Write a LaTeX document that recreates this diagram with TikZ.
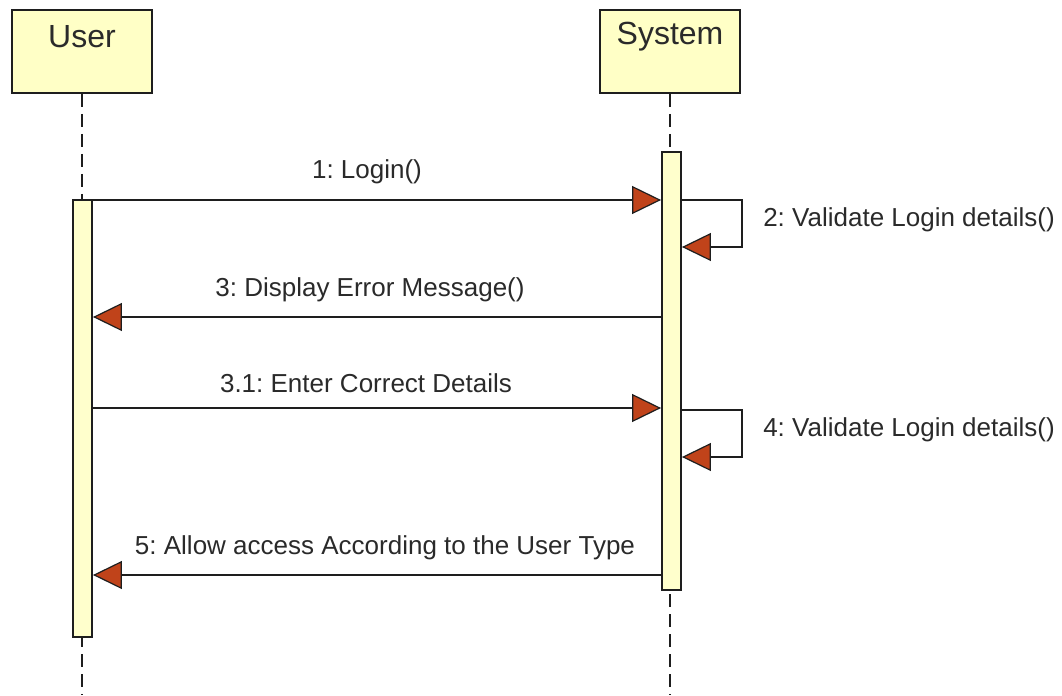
\documentclass[tikz,border=0pt]{standalone}
\usepackage{fontspec}
\setmainfont{Liberation Sans}
\usetikzlibrary{arrows.meta}
\definecolor{boxfill}{HTML}{FFFFC6}
\definecolor{barfill}{HTML}{FFFFCC}
\definecolor{tipfill}{HTML}{C0431A}
\definecolor{ink}{HTML}{1E1E1E}
\definecolor{txt}{HTML}{2A2A2A}
\frenchspacing
\begin{document}
\begin{tikzpicture}[x=0.75pt,y=-0.75pt,
  lifebox/.style={draw=ink, line width=1.5pt, fill=boxfill, minimum width=105pt, minimum height=62.25pt, inner sep=0},
  title/.style={font=\fontsize{24}{28}\selectfont, text=txt, inner sep=0},
  actbar/.style={draw=ink, line width=1.4pt, fill=barfill, minimum width=14.25pt, inner sep=0},
  lifeline/.style={draw=ink, line width=1.4pt, dash pattern=on 10pt off 5pt},
  msg/.style={draw=ink, line width=1.4pt, -{Triangle[length=21.75pt, width=21pt, fill=tipfill, line width=0.9pt]}},
  lbl/.style={font=\fontsize{19.5}{23}\selectfont, text=txt, inner sep=0},
]
\useasboundingbox (0,0) rectangle (1062,695);

% participant heads
\node[lifebox] (ubox) at (82,51.5) {};
\node[lifebox] (sbox) at (670,51.5) {};
\node[title] (utitle) at (82,37) {User};
\node[title] (stitle) at (670,37) {System};

% lifelines
\coordinate (uend) at (82,695);
\coordinate (send) at (670,695);
\draw[lifeline] (ubox.south) -- (uend);
\draw[lifeline] (sbox.south) -- (send);

% activation bars
\node[actbar, minimum height=327.75pt] (ubar) at (82.5,418.5) {};
\node[actbar, minimum height=328.5pt] (sbar) at (671.5,371) {};

% message rows
\coordinate (r1) at (0,200);
\coordinate (r2) at (0,247);
\coordinate (r3) at (0,317);
\coordinate (r31) at (0,408);
\coordinate (r4a) at (0,410);
\coordinate (r4b) at (0,457);
\coordinate (r5) at (0,575);
\coordinate (loop) at (742,0);

% 1: Login()
\draw[msg] (ubar.east |- r1) -- (sbar.west |- r1);
\node[lbl] (l1) at (367,172) {1: Login()};

% 2: self call
\draw[msg] (sbar.east |- r1) -- (loop |- r1) -- (loop |- r2) -- (sbar.east |- r2);
\node[lbl, anchor=west] (l2) at (763,220) {2: Validate Login details()};

% 3: reply to user
\draw[msg] (sbar.west |- r3) -- (ubar.east |- r3);
\node[lbl] (l3) at (370,290) {3: Display Error Message()};

% 3.1
\draw[msg] (ubar.east |- r31) -- (sbar.west |- r31);
\node[lbl] (l31) at (366,383) {3.1: Enter Correct Details};

% 4: self call
\draw[msg] (sbar.east |- r4a) -- (loop |- r4a) -- (loop |- r4b) -- (sbar.east |- r4b);
\node[lbl, anchor=west] (l4) at (763,430) {4: Validate Login details()};

% 5
\draw[msg] (sbar.west |- r5) -- (ubar.east |- r5);
\node[lbl] (l5) at (385,548) {5: Allow access According to the User Type};
\end{tikzpicture}
\end{document}
